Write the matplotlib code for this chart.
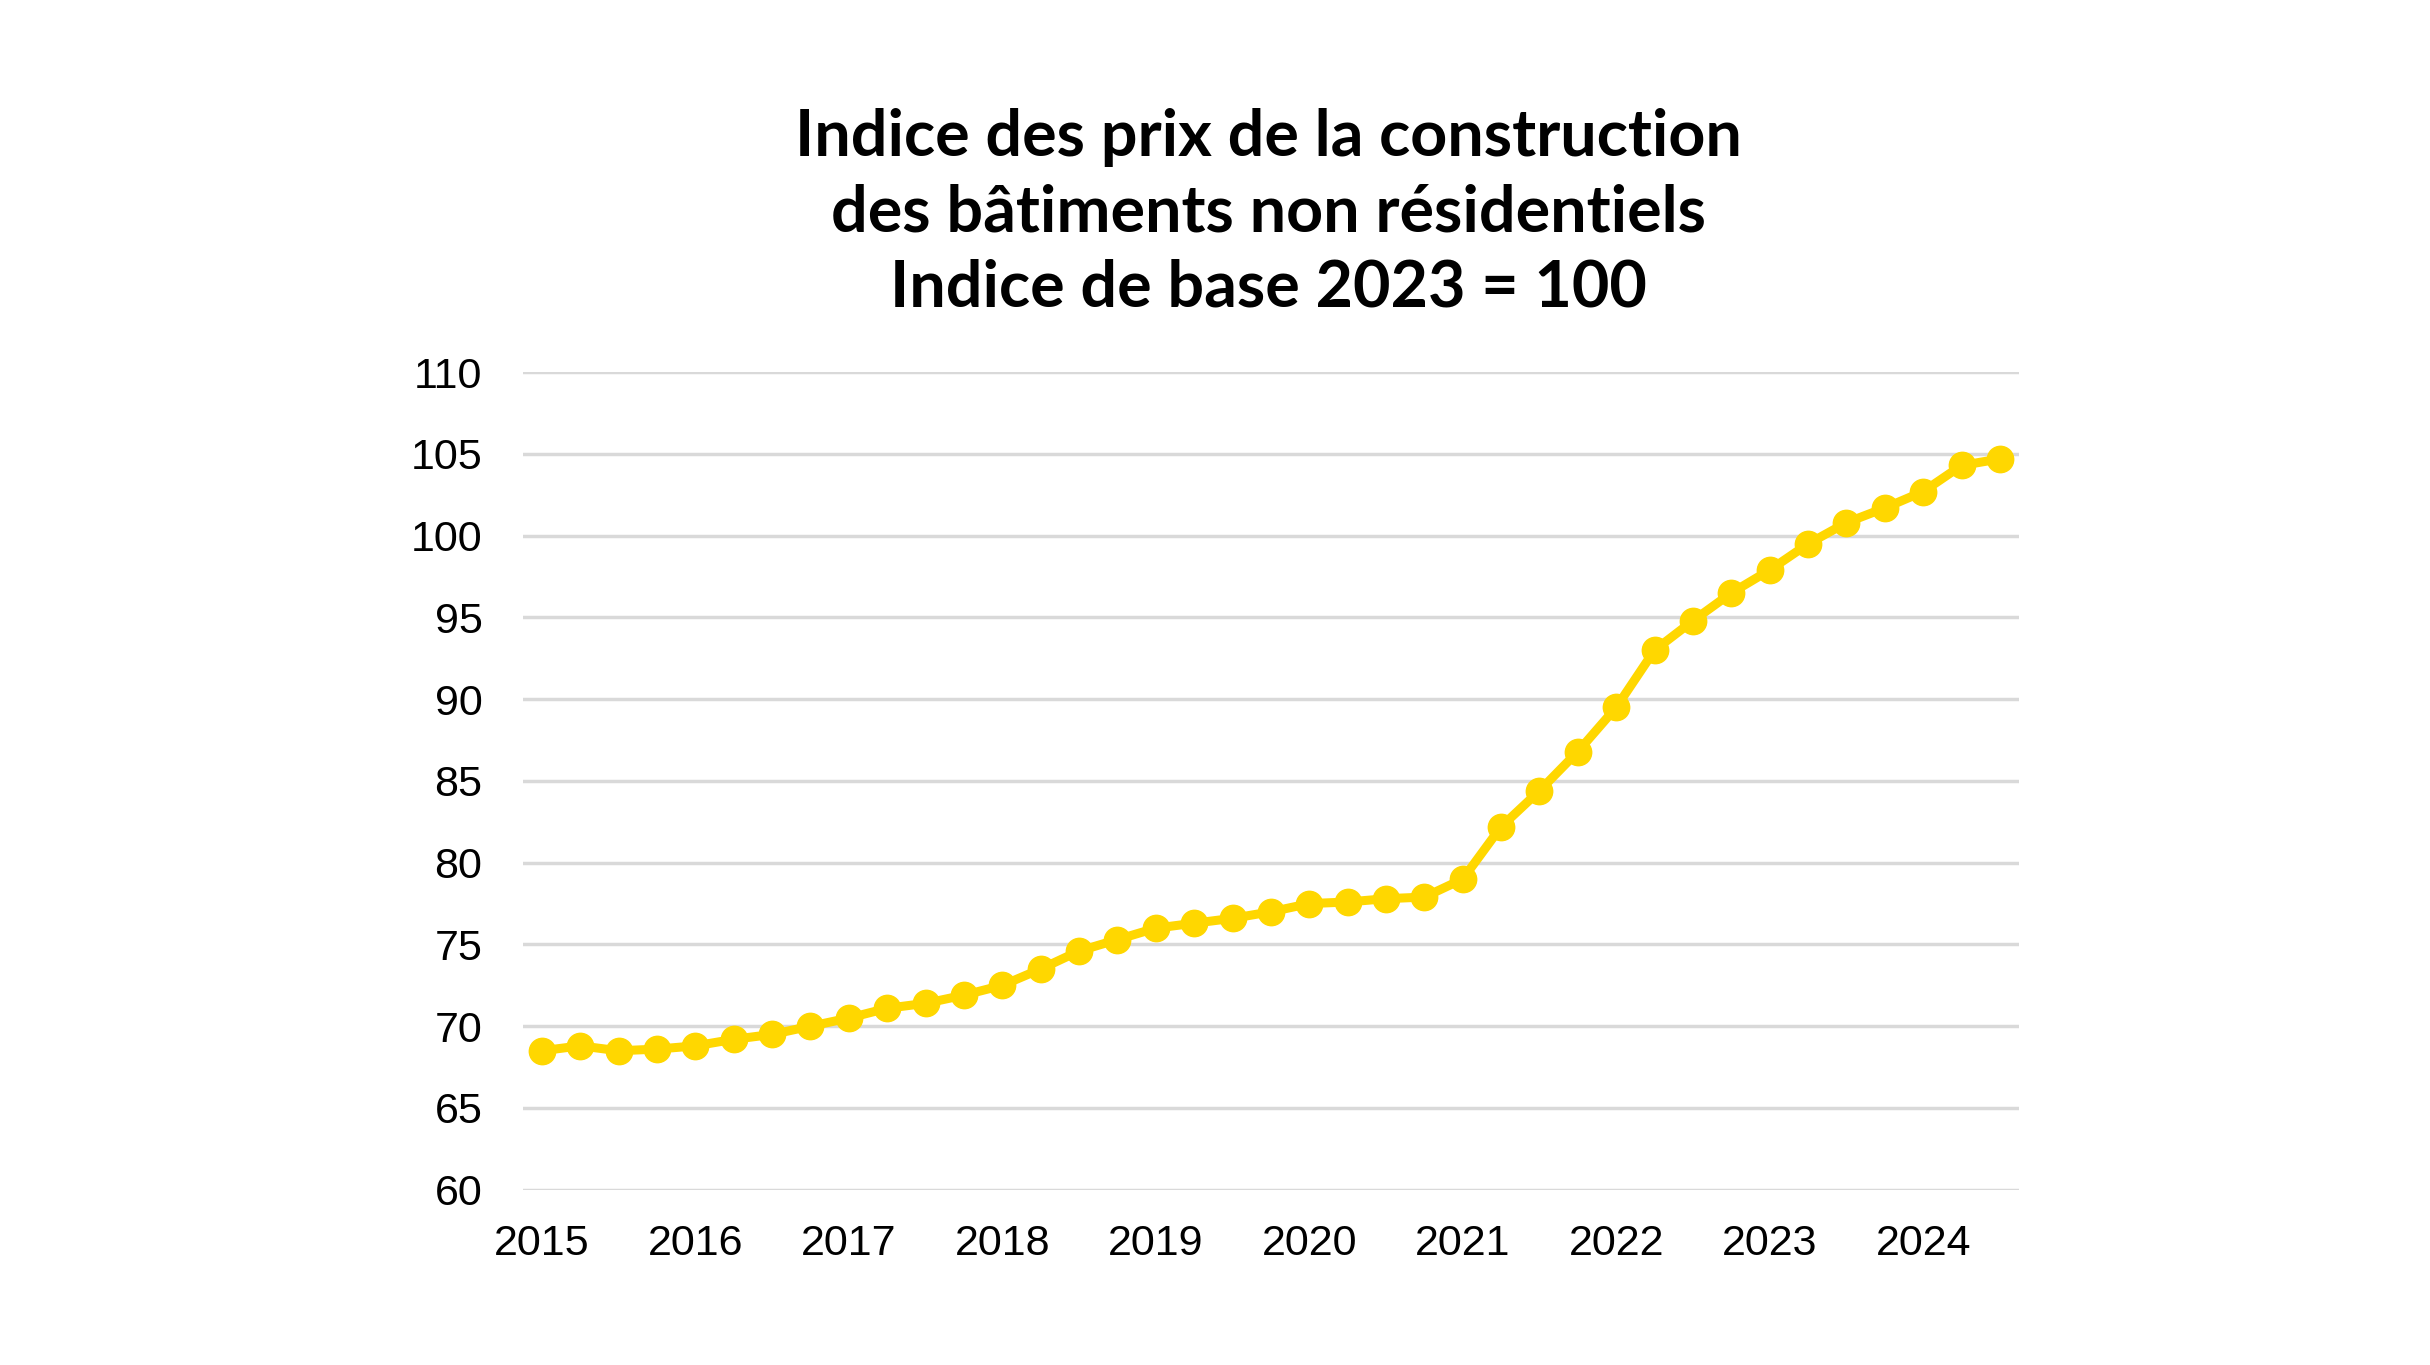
""" Indice des prix de la construction des batiments non residentiels """

import matplotlib
matplotlib.use("Agg")
import matplotlib.pyplot as plt

# quarterly index, 2015 Q1 -> 2024 Q3 (base 2023 = 100)
index_values = [
    68.5, 68.8, 68.5, 68.6,
    68.8, 69.2, 69.5, 70.0,
    70.5, 71.1, 71.4, 71.9,
    72.5, 73.5, 74.6, 75.3,
    76.0, 76.3, 76.6, 77.0,
    77.5, 77.6, 77.8, 77.9,
    79.0, 82.2, 84.4, 86.8,
    89.5, 93.0, 94.8, 96.5,
    97.9, 99.5, 100.8, 101.7,
    102.7, 104.3, 104.7,
]
year_labels = ["2015", "2016", "2017", "2018", "2019",
               "2020", "2021", "2022", "2023", "2024"]
y_ticks = list(range(60, 111, 5))
title_text = ("Indice des prix de la construction\n"
              "des bâtiments non résidentiels\n"
              "Indice de base 2023 = 100")

LINE_COLOR = "#FFD700"
GRID_COLOR = "#D9D9D9"


def make_chart():
    fig = plt.figure(figsize=(24.3, 13.65), dpi=100)
    ax = fig.add_axes([0.2151, 0.1284, 0.6158, 0.5989])

    x = range(len(index_values))
    ax.plot(x, index_values, color=LINE_COLOR, linewidth=6.5,
            marker="o", markersize=19, zorder=3)

    # axes limits and ticks
    ax.set_xlim(-0.5, len(index_values) - 0.5)
    ax.set_ylim(60, 110)
    ax.set_yticks(y_ticks)
    ax.set_yticklabels([str(v) for v in y_ticks])
    ax.set_xticks([4 * i for i in range(len(year_labels))])
    ax.set_xticklabels(year_labels)

    for lab in ax.get_xticklabels() + ax.get_yticklabels():
        lab.set_fontfamily("Liberation Sans")
        lab.set_fontsize(31)
        lab.set_color("black")
    ax.tick_params(axis="both", length=0)
    ax.tick_params(axis="y", pad=29)
    ax.tick_params(axis="x", pad=25)

    # gridlines only
    ax.grid(axis="y", color=GRID_COLOR, linewidth=2.5)
    ax.set_axisbelow(True)
    for side in ["top", "right", "left", "bottom"]:
        ax.spines[side].set_visible(False)

    fig.text(0.522, 0.844, title_text, ha="center", va="center",
             fontsize=46.5, fontweight="bold", family="Lato",
             linespacing=1.34)

    fig.savefig("out.png", dpi=100, facecolor="white")


if __name__ == "__main__":
    make_chart()
